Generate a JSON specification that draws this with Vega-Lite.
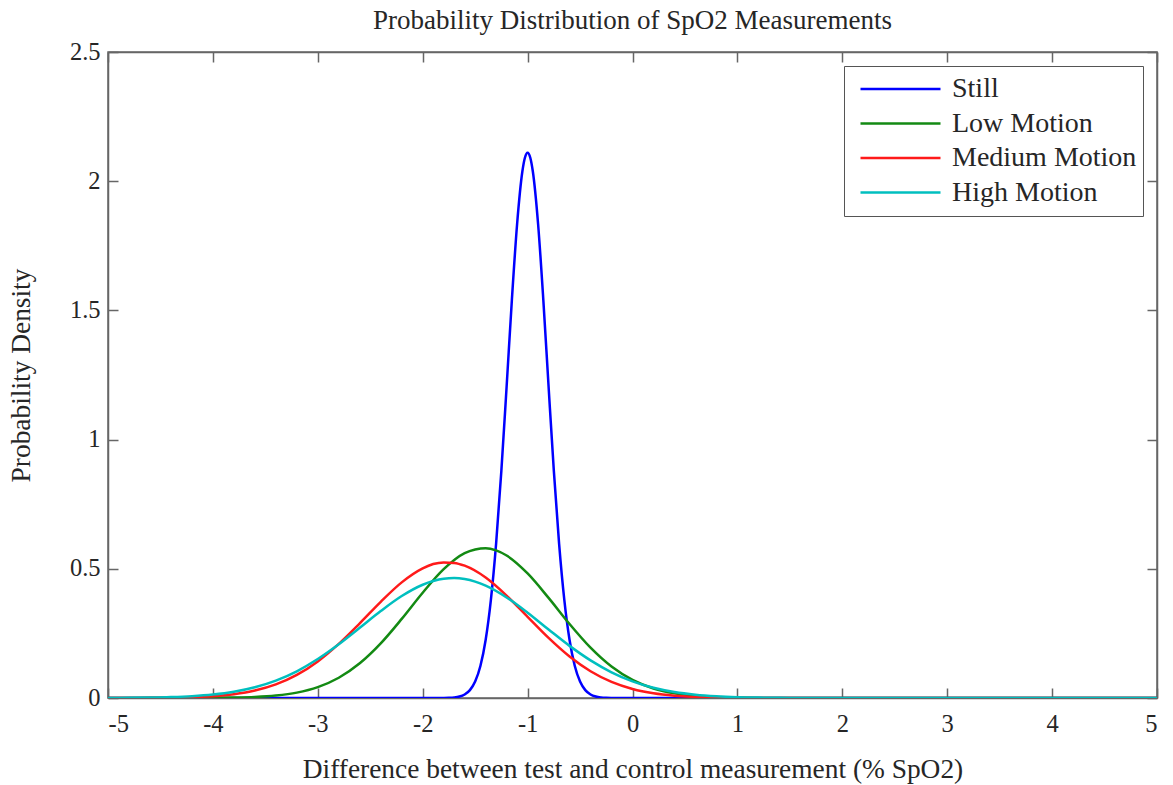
{
  "$schema": "https://vega.github.io/schema/vega-lite/v6.json",
  "width": 1049,
  "height": 646,
  "autosize": {"type": "none"},
  "padding": {"left": 108, "top": 52, "right": 16, "bottom": 87},
  "background": "white",
  "title": {
    "text": "Probability Distribution of SpO2 Measurements",
    "font": "Liberation Serif",
    "fontSize": 27,
    "fontWeight": "normal",
    "color": "#262626",
    "baseline": "alphabetic",
    "anchor": "middle",
    "offset": -17
  },
  "config": {
    "view": {"stroke": "#666666", "strokeWidth": 1.5},
    "font": "Liberation Serif",
    "axis": {
      "grid": false,
      "domainColor": "#666666",
      "domainWidth": 1.5,
      "tickColor": "#666666",
      "tickWidth": 1.5,
      "tickSize": -10,
      "labelFont": "Liberation Serif",
      "labelFontSize": 24.5,
      "labelColor": "#262626",
      "titleFont": "Liberation Serif",
      "titleFontSize": 27.4,
      "titleFontWeight": "normal",
      "titleColor": "#262626"
    },
    "legend": {
      "labelFont": "Liberation Serif",
      "labelFontSize": 28,
      "labelColor": "#262626",
      "labelLimit": 400
    }
  },
  "data": {
    "values": [
      {"series": "Still", "x": -5, "y": 0},
      {"series": "Still", "x": -1.9, "y": 0},
      {"series": "Still", "x": -1.8, "y": 0.0003},
      {"series": "Still", "x": -1.75, "y": 0.0008},
      {"series": "Still", "x": -1.7, "y": 0.0022},
      {"series": "Still", "x": -1.65, "y": 0.0057},
      {"series": "Still", "x": -1.6, "y": 0.0137},
      {"series": "Still", "x": -1.55, "y": 0.0306},
      {"series": "Still", "x": -1.5, "y": 0.0638},
      {"series": "Still", "x": -1.45, "y": 0.1239},
      {"series": "Still", "x": -1.4, "y": 0.2247},
      {"series": "Still", "x": -1.35, "y": 0.3798},
      {"series": "Still", "x": -1.3, "y": 0.5986},
      {"series": "Still", "x": -1.25, "y": 0.8797},
      {"series": "Still", "x": -1.2, "y": 1.2054},
      {"series": "Still", "x": -1.15, "y": 1.5399},
      {"series": "Still", "x": -1.1, "y": 1.8344},
      {"series": "Still", "x": -1.05, "y": 2.0374},
      {"series": "Still", "x": -1.025, "y": 2.0916},
      {"series": "Still", "x": -1.0, "y": 2.11},
      {"series": "Still", "x": -0.975, "y": 2.0916},
      {"series": "Still", "x": -0.95, "y": 2.0374},
      {"series": "Still", "x": -0.9, "y": 1.8344},
      {"series": "Still", "x": -0.85, "y": 1.5399},
      {"series": "Still", "x": -0.8, "y": 1.2054},
      {"series": "Still", "x": -0.75, "y": 0.8797},
      {"series": "Still", "x": -0.7, "y": 0.5986},
      {"series": "Still", "x": -0.65, "y": 0.3798},
      {"series": "Still", "x": -0.6, "y": 0.2247},
      {"series": "Still", "x": -0.55, "y": 0.1239},
      {"series": "Still", "x": -0.5, "y": 0.0638},
      {"series": "Still", "x": -0.45, "y": 0.0306},
      {"series": "Still", "x": -0.4, "y": 0.0137},
      {"series": "Still", "x": -0.35, "y": 0.0057},
      {"series": "Still", "x": -0.3, "y": 0.0022},
      {"series": "Still", "x": -0.25, "y": 0.0008},
      {"series": "Still", "x": -0.2, "y": 0.0003},
      {"series": "Still", "x": -0.1, "y": 0},
      {"series": "Still", "x": 5, "y": 0},

      {"series": "Low Motion", "x": -5, "y": 0},
      {"series": "Low Motion", "x": -4.6, "y": 0},
      {"series": "Low Motion", "x": -4.2, "y": 0.0002},
      {"series": "Low Motion", "x": -4.0, "y": 0.0005},
      {"series": "Low Motion", "x": -3.8, "y": 0.0015},
      {"series": "Low Motion", "x": -3.6, "y": 0.0039},
      {"series": "Low Motion", "x": -3.4, "y": 0.0095},
      {"series": "Low Motion", "x": -3.2, "y": 0.0208},
      {"series": "Low Motion", "x": -3.0, "y": 0.0422},
      {"series": "Low Motion", "x": -2.8, "y": 0.0785},
      {"series": "Low Motion", "x": -2.6, "y": 0.1344},
      {"series": "Low Motion", "x": -2.4, "y": 0.2115},
      {"series": "Low Motion", "x": -2.2, "y": 0.3061},
      {"series": "Low Motion", "x": -2.0, "y": 0.4074},
      {"series": "Low Motion", "x": -1.8, "y": 0.4984},
      {"series": "Low Motion", "x": -1.6, "y": 0.5606},
      {"series": "Low Motion", "x": -1.5, "y": 0.5747},
      {"series": "Low Motion", "x": -1.4, "y": 0.5798},
      {"series": "Low Motion", "x": -1.3, "y": 0.5713},
      {"series": "Low Motion", "x": -1.2, "y": 0.5513},
      {"series": "Low Motion", "x": -1.0, "y": 0.4819},
      {"series": "Low Motion", "x": -0.8, "y": 0.3873},
      {"series": "Low Motion", "x": -0.6, "y": 0.2862},
      {"series": "Low Motion", "x": -0.4, "y": 0.1945},
      {"series": "Low Motion", "x": -0.2, "y": 0.1215},
      {"series": "Low Motion", "x": 0.0, "y": 0.0698},
      {"series": "Low Motion", "x": 0.2, "y": 0.0368},
      {"series": "Low Motion", "x": 0.4, "y": 0.0179},
      {"series": "Low Motion", "x": 0.6, "y": 0.008},
      {"series": "Low Motion", "x": 0.8, "y": 0.0033},
      {"series": "Low Motion", "x": 1.0, "y": 0.0012},
      {"series": "Low Motion", "x": 1.2, "y": 0.0004},
      {"series": "Low Motion", "x": 1.6, "y": 0},
      {"series": "Low Motion", "x": 5, "y": 0},

      {"series": "Medium Motion", "x": -5, "y": 0.0001},
      {"series": "Medium Motion", "x": -4.8, "y": 0.0002},
      {"series": "Medium Motion", "x": -4.6, "y": 0.0005},
      {"series": "Medium Motion", "x": -4.4, "y": 0.0013},
      {"series": "Medium Motion", "x": -4.2, "y": 0.0032},
      {"series": "Medium Motion", "x": -4.0, "y": 0.0071},
      {"series": "Medium Motion", "x": -3.8, "y": 0.0148},
      {"series": "Medium Motion", "x": -3.6, "y": 0.0289},
      {"series": "Medium Motion", "x": -3.4, "y": 0.0526},
      {"series": "Medium Motion", "x": -3.2, "y": 0.0894},
      {"series": "Medium Motion", "x": -3.0, "y": 0.1417},
      {"series": "Medium Motion", "x": -2.8, "y": 0.2096},
      {"series": "Medium Motion", "x": -2.6, "y": 0.2892},
      {"series": "Medium Motion", "x": -2.4, "y": 0.3723},
      {"series": "Medium Motion", "x": -2.2, "y": 0.4474},
      {"series": "Medium Motion", "x": -2.0, "y": 0.5015},
      {"series": "Medium Motion", "x": -1.9, "y": 0.5184},
      {"series": "Medium Motion", "x": -1.8, "y": 0.5246},
      {"series": "Medium Motion", "x": -1.7, "y": 0.5228},
      {"series": "Medium Motion", "x": -1.6, "y": 0.512},
      {"series": "Medium Motion", "x": -1.4, "y": 0.4663},
      {"series": "Medium Motion", "x": -1.2, "y": 0.3963},
      {"series": "Medium Motion", "x": -1.0, "y": 0.3142},
      {"series": "Medium Motion", "x": -0.8, "y": 0.2325},
      {"series": "Medium Motion", "x": -0.6, "y": 0.1605},
      {"series": "Medium Motion", "x": -0.4, "y": 0.1034},
      {"series": "Medium Motion", "x": -0.2, "y": 0.0621},
      {"series": "Medium Motion", "x": 0.0, "y": 0.0349},
      {"series": "Medium Motion", "x": 0.2, "y": 0.0182},
      {"series": "Medium Motion", "x": 0.4, "y": 0.0089},
      {"series": "Medium Motion", "x": 0.6, "y": 0.0041},
      {"series": "Medium Motion", "x": 0.8, "y": 0.0017},
      {"series": "Medium Motion", "x": 1.0, "y": 0.0007},
      {"series": "Medium Motion", "x": 1.2, "y": 0.0003},
      {"series": "Medium Motion", "x": 1.6, "y": 0},
      {"series": "Medium Motion", "x": 5, "y": 0},

      {"series": "High Motion", "x": -5, "y": 0.0003},
      {"series": "High Motion", "x": -4.8, "y": 0.0007},
      {"series": "High Motion", "x": -4.6, "y": 0.0016},
      {"series": "High Motion", "x": -4.4, "y": 0.0035},
      {"series": "High Motion", "x": -4.2, "y": 0.007},
      {"series": "High Motion", "x": -4.0, "y": 0.0134},
      {"series": "High Motion", "x": -3.8, "y": 0.0242},
      {"series": "High Motion", "x": -3.6, "y": 0.0415},
      {"series": "High Motion", "x": -3.4, "y": 0.0673},
      {"series": "High Motion", "x": -3.2, "y": 0.1034},
      {"series": "High Motion", "x": -3.0, "y": 0.1507},
      {"series": "High Motion", "x": -2.8, "y": 0.2078},
      {"series": "High Motion", "x": -2.6, "y": 0.2716},
      {"series": "High Motion", "x": -2.4, "y": 0.3363},
      {"series": "High Motion", "x": -2.2, "y": 0.3945},
      {"series": "High Motion", "x": -2.0, "y": 0.4383},
      {"series": "High Motion", "x": -1.9, "y": 0.4527},
      {"series": "High Motion", "x": -1.8, "y": 0.4615},
      {"series": "High Motion", "x": -1.7, "y": 0.464},
      {"series": "High Motion", "x": -1.6, "y": 0.4602},
      {"series": "High Motion", "x": -1.5, "y": 0.4503},
      {"series": "High Motion", "x": -1.4, "y": 0.4348},
      {"series": "High Motion", "x": -1.2, "y": 0.3892},
      {"series": "High Motion", "x": -1.0, "y": 0.33},
      {"series": "High Motion", "x": -0.8, "y": 0.2651},
      {"series": "High Motion", "x": -0.6, "y": 0.2017},
      {"series": "High Motion", "x": -0.4, "y": 0.1455},
      {"series": "High Motion", "x": -0.2, "y": 0.0994},
      {"series": "High Motion", "x": 0.0, "y": 0.0643},
      {"series": "High Motion", "x": 0.2, "y": 0.0394},
      {"series": "High Motion", "x": 0.4, "y": 0.0229},
      {"series": "High Motion", "x": 0.6, "y": 0.0126},
      {"series": "High Motion", "x": 0.8, "y": 0.0066},
      {"series": "High Motion", "x": 1.0, "y": 0.0032},
      {"series": "High Motion", "x": 1.2, "y": 0.0015},
      {"series": "High Motion", "x": 1.4, "y": 0.0007},
      {"series": "High Motion", "x": 1.6, "y": 0.0003},
      {"series": "High Motion", "x": 2.0, "y": 0},
      {"series": "High Motion", "x": 5, "y": 0}
    ]
  },
  "layer": [
    {
      "mark": {"type": "line", "strokeWidth": 2.5, "interpolate": "monotone", "clip": true},
      "encoding": {
        "x": {
          "field": "x",
          "type": "quantitative",
          "scale": {"domain": [-5, 5], "nice": false, "zero": false},
          "axis": {
            "orient": "bottom",
            "values": [-5, -4, -3, -2, -1, 0, 1, 2, 3, 4, 5],
            "labelExpr": "'' + datum.value",
            "labelPadding": 24,
            "title": "Difference between test and control measurement (% SpO2)",
            "titleBaseline": "alphabetic",
            "titleY": 79
          }
        },
        "y": {
          "field": "y",
          "type": "quantitative",
          "scale": {"domain": [0, 2.5], "nice": false},
          "axis": {
            "orient": "left",
            "values": [0, 0.5, 1, 1.5, 2, 2.5],
            "labelExpr": "'' + datum.value",
            "labelPadding": 18,
            "title": "Probability Density",
            "titleBaseline": "alphabetic",
            "titleX": -79
          }
        },
        "color": {
          "field": "series",
          "type": "nominal",
          "sort": ["Still", "Low Motion", "Medium Motion", "High Motion"],
          "scale": {
            "domain": ["Still", "Low Motion", "Medium Motion", "High Motion"],
            "range": ["#0000ff", "#138a13", "#ff1a1a", "#00bfbf"]
          },
          "legend": {
            "title": null,
            "orient": "top-right",
            "offset": 14,
            "padding": 6,
            "fillColor": "#ffffff",
            "strokeColor": "#555555",
            "symbolType": "stroke",
            "symbolSize": 6400,
            "symbolStrokeWidth": 2.5,
            "symbolOffset": 9,
            "labelOffset": 10,
            "labelLimit": 400,
            "clipHeight": 34,
            "rowPadding": 0.5
          }
        }
      }
    },
    {
      "mark": {"type": "line", "opacity": 0},
      "encoding": {
        "x": {
          "field": "x",
          "type": "quantitative",
          "axis": {"orient": "top", "labels": false, "title": null, "values": [-5, -4, -3, -2, -1, 0, 1, 2, 3, 4, 5]}
        },
        "y": {
          "field": "y",
          "type": "quantitative",
          "axis": {"orient": "right", "labels": false, "title": null, "values": [0, 0.5, 1, 1.5, 2, 2.5]}
        },
        "detail": {"field": "series"}
      }
    }
  ],
  "resolve": {"axis": {"x": "independent", "y": "independent"}}
}
